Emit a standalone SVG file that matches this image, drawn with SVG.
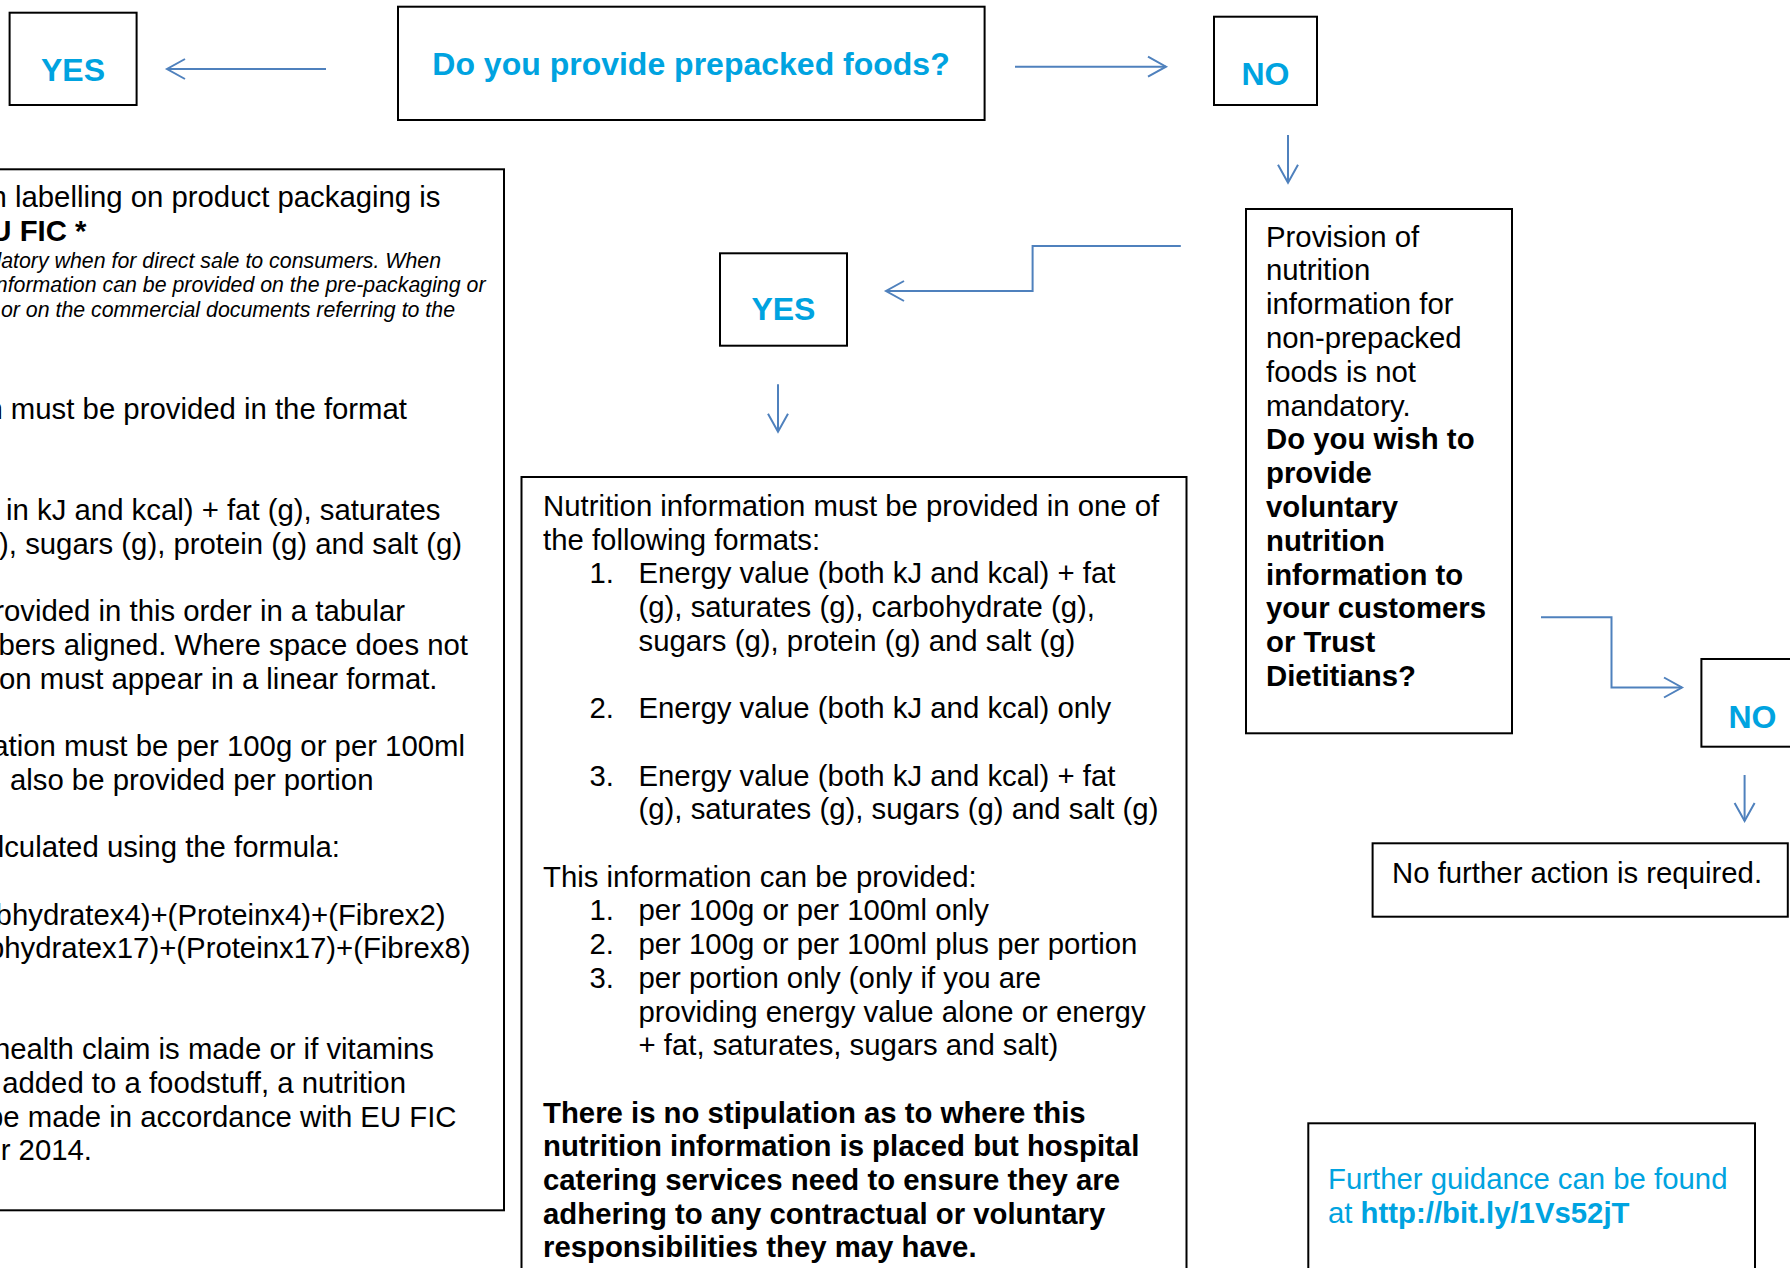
<svg xmlns="http://www.w3.org/2000/svg" width="1790" height="1268" viewBox="0 0 1790 1268">
<style>
.box{fill:#fff;stroke:#000;stroke-width:2}
.t{font-family:"Liberation Sans",Arial,sans-serif;font-size:29.33px;fill:#000}
.b{font-weight:bold}
.i{font-style:italic;font-size:21.33px}
.e{text-anchor:end}
.lbl{font-family:"Liberation Sans",Arial,sans-serif;font-size:32px;font-weight:bold;fill:#00A3E0;text-anchor:middle}
.blue{fill:#00A3E0}
.con{fill:none;stroke:#4F81BD;stroke-width:2}
</style>
<defs>
<marker id="ah" markerUnits="userSpaceOnUse" markerWidth="24" markerHeight="24" refX="20" refY="12" orient="auto" viewBox="0 0 24 24">
<path d="M2 2 L20 12 L2 22" fill="none" stroke="#4F81BD" stroke-width="2"/>
</marker>
</defs>
<rect x="0" y="0" width="1790" height="1268" fill="#fff"/>

<g id="connectors">
<path class="con" d="M326 69 H167" marker-end="url(#ah)"/>
<path class="con" d="M1015 66.7 H1166" marker-end="url(#ah)"/>
<path class="con" d="M1288 135 V182.7" marker-end="url(#ah)"/>
<path class="con" d="M1180.8 246 H1032.6 V291 H886" marker-end="url(#ah)"/>
<path class="con" d="M778 384.3 V431.7" marker-end="url(#ah)"/>
<path class="con" d="M1541 617.3 H1611.5 V687.5 H1682" marker-end="url(#ah)"/>
<path class="con" d="M1744.6 775 V821" marker-end="url(#ah)"/>
</g>

<g id="yes-top">
<rect class="box" x="9.6" y="12.7" width="127" height="92.3"/>
<text class="lbl" x="73" y="81">YES</text>
</g>

<g id="question">
<rect class="box" x="398" y="6.7" width="586.6" height="113.3"/>
<text class="lbl" x="691" y="75">Do you provide prepacked foods?</text>
</g>

<g id="no-top">
<rect class="box" x="1214" y="16.7" width="103" height="88.3"/>
<text class="lbl" x="1265.5" y="85">NO</text>
</g>

<g id="left-box">
<rect class="box" x="-10" y="169.3" width="514" height="1041"/>
<text class="t e" x="440.5" y="207">n labelling on product packaging is</text>
<text class="t e b" x="86.5" y="240.7">U FIC *</text>
<text class="t e i" x="441" y="267.5">datory when for direct sale to consumers. When</text>
<text class="t e i" x="485.5" y="292">nformation can be provided on the pre-packaging or</text>
<text class="t e i" x="455" y="316.5">or on the commercial documents referring to the</text>
<text class="t e" x="407" y="419">n must be provided in the format</text>
<text class="t e" x="440.5" y="520.1">in kJ and kcal) + fat (g), saturates</text>
<text class="t e" x="462" y="553.8">), sugars (g), protein (g) and salt (g)</text>
<text class="t e" x="405" y="621.2">rovided in this order in a tabular</text>
<text class="t e" x="468" y="654.9">bers aligned. Where space does not</text>
<text class="t e" x="437.5" y="688.6">on must appear in a linear format.</text>
<text class="t e" x="465" y="756">ation must be per 100g or per 100ml</text>
<text class="t e" x="373.5" y="789.7">also be provided per portion</text>
<text class="t e" x="340" y="857.1">lculated using the formula:</text>
<text class="t e" x="445.5" y="924.5">bhydratex4)+(Proteinx4)+(Fibrex2)</text>
<text class="t e" x="470.5" y="958.2">bhydratex17)+(Proteinx17)+(Fibrex8)</text>
<text class="t e" x="434" y="1059.3">health claim is made or if vitamins</text>
<text class="t e" x="406" y="1093">added to a foodstuff, a nutrition</text>
<text class="t e" x="456.5" y="1126.7">be made in accordance with EU FIC</text>
<text class="t e" x="92" y="1160.4">r 2014.</text>
</g>

<g id="yes-mid">
<rect class="box" x="720" y="253.3" width="127" height="92.4"/>
<text class="lbl" x="783.4" y="320">YES</text>
</g>

<g id="center-box">
<rect class="box" x="521.5" y="477" width="665" height="820"/>
<text class="t" x="543" y="516">Nutrition information must be provided in one of</text>
<text class="t" x="543" y="549.7">the following formats:</text>
<text class="t" x="589.5" y="583.4">1.</text>
<text class="t" x="638.5" y="583.4">Energy value (both kJ and kcal) + fat</text>
<text class="t" x="638.5" y="617.1">(g), saturates (g), carbohydrate (g),</text>
<text class="t" x="638.5" y="650.8">sugars (g), protein (g) and salt (g)</text>
<text class="t" x="589.5" y="718.2">2.</text>
<text class="t" x="638.5" y="718.2">Energy value (both kJ and kcal) only</text>
<text class="t" x="589.5" y="785.6">3.</text>
<text class="t" x="638.5" y="785.6">Energy value (both kJ and kcal) + fat</text>
<text class="t" x="638.5" y="819.3">(g), saturates (g), sugars (g) and salt (g)</text>
<text class="t" x="543" y="886.7">This information can be provided:</text>
<text class="t" x="589.5" y="920.4">1.</text>
<text class="t" x="638.5" y="920.4">per 100g or per 100ml only</text>
<text class="t" x="589.5" y="954.1">2.</text>
<text class="t" x="638.5" y="954.1">per 100g or per 100ml plus per portion</text>
<text class="t" x="589.5" y="987.8">3.</text>
<text class="t" x="638.5" y="987.8">per portion only (only if you are</text>
<text class="t" x="638.5" y="1021.5">providing energy value alone or energy</text>
<text class="t" x="638.5" y="1055.2">+ fat, saturates, sugars and salt)</text>
<text class="t b" x="543" y="1122.6">There is no stipulation as to where this</text>
<text class="t b" x="543" y="1156.3">nutrition information is placed but hospital</text>
<text class="t b" x="543" y="1190">catering services need to ensure they are</text>
<text class="t b" x="543" y="1223.7">adhering to any contractual or voluntary</text>
<text class="t b" x="543" y="1257.4">responsibilities they may have.</text>
</g>

<g id="provision">
<rect class="box" x="1246" y="209" width="266" height="524.3"/>
<text class="t" x="1266" y="246.5">Provision of</text>
<text class="t" x="1266" y="280.3">nutrition</text>
<text class="t" x="1266" y="314.1">information for</text>
<text class="t" x="1266" y="347.9">non-prepacked</text>
<text class="t" x="1266" y="381.7">foods is not</text>
<text class="t" x="1266" y="415.5">mandatory.</text>
<text class="t b" x="1266" y="449.3">Do you wish to</text>
<text class="t b" x="1266" y="483.1">provide</text>
<text class="t b" x="1266" y="516.9">voluntary</text>
<text class="t b" x="1266" y="550.7">nutrition</text>
<text class="t b" x="1266" y="584.5">information to</text>
<text class="t b" x="1266" y="618.3">your customers</text>
<text class="t b" x="1266" y="652.1">or Trust</text>
<text class="t b" x="1266" y="685.9">Dietitians?</text>
</g>

<g id="no-right">
<rect class="box" x="1701.4" y="659" width="103" height="87.7"/>
<text class="lbl" x="1752.5" y="727.7">NO</text>
</g>

<g id="no-action">
<rect class="box" x="1372.6" y="843.3" width="415.2" height="73.4"/>
<text class="t" x="1392" y="882.7">No further action is required.</text>
</g>

<g id="guidance">
<rect class="box" x="1308.3" y="1123.3" width="446.7" height="170"/>
<text class="t blue" x="1328" y="1189">Further guidance can be found</text>
<text class="t blue" x="1328" y="1223">at <tspan class="b">http://bit.ly/1Vs52jT</tspan></text>
</g>
</svg>
